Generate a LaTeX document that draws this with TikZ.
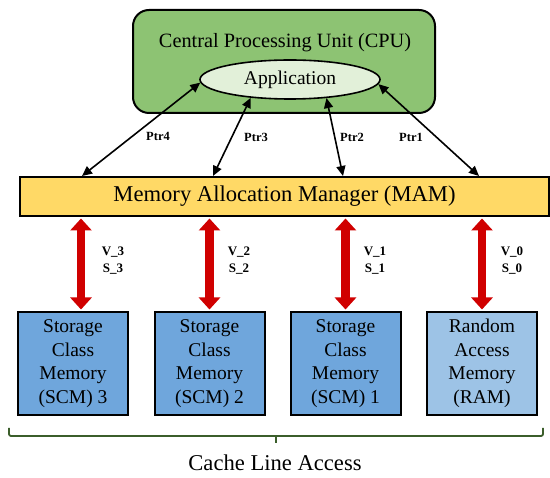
\documentclass[tikz,border=0pt]{standalone}
\usepackage{fontspec}
\setmainfont{Liberation Serif}
\usetikzlibrary{arrows.meta,shapes.geometric}
\definecolor{cpugreen}{HTML}{8DC373}
\definecolor{appgreen}{HTML}{E2F0D9}
\definecolor{mamyellow}{HTML}{FFD966}
\definecolor{scmblue}{HTML}{6FA6DC}
\definecolor{ramblue}{HTML}{9DC3E6}
\definecolor{arrred}{HTML}{D00000}
\definecolor{bracegreen}{HTML}{3B5E2B}
\tikzset{
  memboxstyle/.style={draw=black, line width=2pt, minimum width=110pt, minimum height=103pt,
    align=center, inner sep=0pt, font=\fontsize{19.5}{23.5}\selectfont},
  ptrarrow/.style={draw=black, line width=1.6pt, {Triangle[width=9pt,length=10pt]}-{Triangle[width=9pt,length=10pt]}},
  redarrow/.style={draw=arrred, line width=8.5pt, {Triangle[width=21pt,length=12pt]}-{Triangle[width=21pt,length=12pt]}, shorten <=1.5pt, shorten >=1.5pt},
  ptrlabel/.style={font=\bfseries\fontsize{12.5}{14}\selectfont, inner sep=0pt},
  vslabel/.style={font=\bfseries\fontsize{13}{17}\selectfont, align=center, inner sep=0pt}
}
\begin{document}
\begin{tikzpicture}[x=1pt,y=-1pt]
\useasboundingbox (0,0) rectangle (550,478);

% CPU
\node[draw=black, line width=2pt, fill=cpugreen, rounded corners=16pt,
      minimum width=302pt, minimum height=103pt, inner sep=0pt] (cpu) at (284,61.5) {};
\node[font=\fontsize{20.3}{22}\selectfont, inner sep=0pt] (cputxt) at (285,43) {Central Processing Unit (CPU)};
\node[draw=black, line width=1.6pt, fill=appgreen, ellipse, minimum width=180pt, minimum height=39pt,
      inner sep=0pt, font=\fontsize{19.5}{22}\selectfont] (app) at (290,79.5) {Application};

% MAM
\node[draw=black, line width=2pt, fill=mamyellow, minimum width=529pt, minimum height=39pt,
      inner sep=0pt, font=\fontsize{22.6}{26}\selectfont] (mam) at (284.5,196.5) {Memory Allocation Manager (MAM)};

\coordinate (t4) at (82,176);
\coordinate (t3) at (213,176);
\coordinate (t2) at (343,176);
\coordinate (t1) at (479,176);

\draw[ptrarrow] (t4) -- (app.182);
\draw[ptrarrow] (t3) -- (app.205);
\draw[ptrarrow] (t2) -- (app.333);
\draw[ptrarrow] (t1) -- (app.357);

\node[ptrlabel] (p4) at (158,136) {Ptr4};
\node[ptrlabel] (p3) at (256,137) {Ptr3};
\node[ptrlabel] (p2) at (352,137) {Ptr2};
\node[ptrlabel] (p1) at (411,137) {Ptr1};

% memory boxes
\node[memboxstyle, fill=scmblue] (scm3) at (73,363.5) {Storage\\Class\\Memory\\(SCM) 3};
\node[memboxstyle, fill=scmblue] (scm2) at (209.5,363.5) {Storage\\Class\\Memory\\(SCM) 2};
\node[memboxstyle, fill=scmblue] (scm1) at (345.5,363.5) {Storage\\Class\\Memory\\(SCM) 1};
\node[memboxstyle, fill=ramblue] (ram) at (482,363.5) {Random\\Access\\Memory\\(RAM)};

% red arrows
\draw[redarrow] ([xshift=8pt]scm3.north |- mam.south) -- ([xshift=8pt]scm3.north);
\draw[redarrow] (scm2.north |- mam.south) -- (scm2.north);
\draw[redarrow] (scm1.north |- mam.south) -- (scm1.north);
\draw[redarrow] (ram.north |- mam.south) -- (ram.north);

\node[vslabel] (l3) at (113,261) {V\_3\\S\_3};
\node[vslabel] (l2) at (239,261) {V\_2\\S\_2};
\node[vslabel] (l1) at (375,261) {V\_1\\S\_1};
\node[vslabel] (l0) at (512,261) {V\_0\\S\_0};

% brace
\coordinate (bl) at (9,428);
\coordinate (br) at (543,428);
\coordinate (bt) at (276,436);
\draw[bracegreen, line width=1.8pt, rounded corners=2pt] (bl) -- (9,436) -- (543,436) -- (br);
\draw[bracegreen, line width=1.8pt] (bt) -- (276,443);

\node[font=\fontsize{22.6}{26}\selectfont, inner sep=0pt, anchor=base] (cla) at (275,471) {Cache Line Access};
\end{tikzpicture}
\end{document}
